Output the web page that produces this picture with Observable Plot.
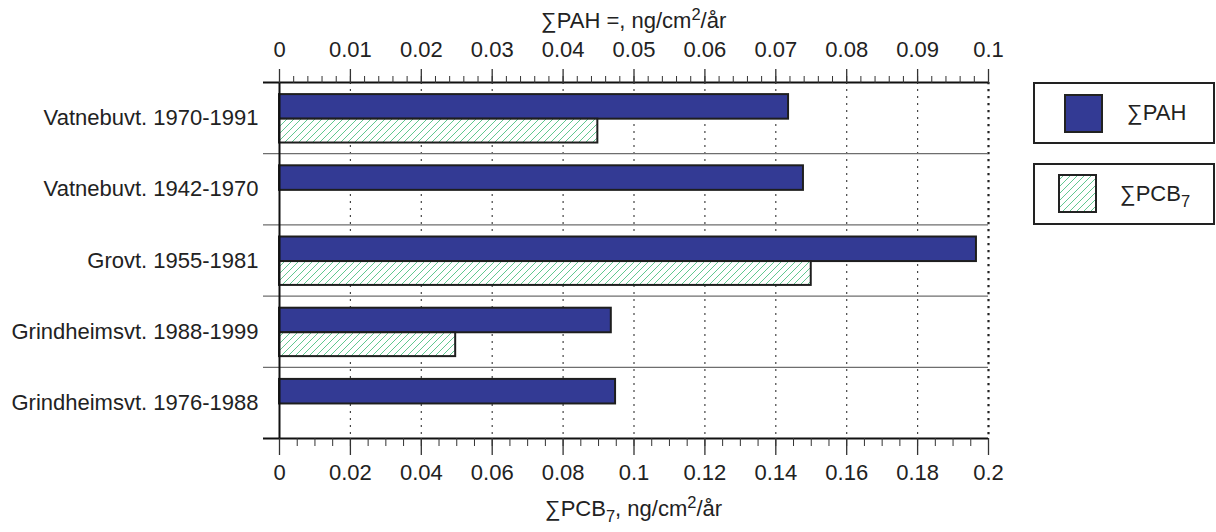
<!DOCTYPE html>
<html><head><meta charset="utf-8">
<script src="https://cdn.jsdelivr.net/npm/d3@7"></script>
<script src="https://cdn.jsdelivr.net/npm/@observablehq/plot@0.6"></script>
<style>
body{margin:0;background:#fff;font-family:"Liberation Sans",Arial,sans-serif;color:#222}
#wrap{position:relative;width:1216px;height:532px;overflow:hidden}
.t{position:absolute;font-size:22px;line-height:22px;white-space:nowrap;color:#222}
.sup{position:relative;top:-0.5em;font-size:0.75em}
.sub{position:relative;top:0.38em;font-size:0.75em}
.box{position:absolute;border:2px solid #222;box-sizing:border-box;background:#fff}
</style></head><body>
<svg width="0" height="0" style="position:absolute">
  <defs>
    <pattern id="hatch" patternUnits="userSpaceOnUse" width="7" height="7">
      <rect width="7" height="7" fill="#fff"/>
      <path d="M-1,1 l2,-2 M0,7 l7,-7 M6,8 l2,-2" stroke="#45bd7c" stroke-width="0.85"/>
    </pattern>
  </defs>
</svg>
<div id="wrap"></div>
<script>
// ---- data ----
const categories = [
  "Vatnebuvt. 1970-1991",
  "Vatnebuvt. 1942-1970",
  "Grovt. 1955-1981",
  "Grindheimsvt. 1988-1999",
  "Grindheimsvt. 1976-1988"
];
const pahValues = [0.0718, 0.0739, 0.0983, 0.0468, 0.0474];   // top axis, ng/cm2/år
const pcbValues = [0.0898, null, 0.15, 0.0497, null];          // bottom axis, ng/cm2/år
const pahTicks = [0, 0.01, 0.02, 0.03, 0.04, 0.05, 0.06, 0.07, 0.08, 0.09, 0.1];
const pcbTicks = [0, 0.02, 0.04, 0.06, 0.08, 0.1, 0.12, 0.14, 0.16, 0.18, 0.2];
const seriesNames = ["∑PAH", "∑PCB7"];

// ---- layout ----
const W = 1216, H = 532;
const mL = 279, mR = 228, mT = 82, mB = 94;
const pahMax = 0.1, pcbMax = 0.2, ratio = pcbMax / pahMax;
const plotW = W - mL - mR;
const leftTick = 16 / plotW * pcbMax;

const rows = categories.map((c, i) => ({cat: c, i, pah: pahValues[i], pcb: pcbValues[i]}));
const fmt = d => String(+(+d).toFixed(4));

const pahMinor = d3.range(0, 51).map(k => k * 0.002 * ratio);
const pcbMinor = d3.range(0, 41).map(k => k * 0.005);

const chart = Plot.plot({
  width: W, height: H,
  marginLeft: mL, marginRight: mR, marginTop: mT, marginBottom: mB,
  x: {domain: [0, pcbMax]},
  y: {domain: [0, categories.length], reverse: true},
  style: {fontFamily: "'Liberation Sans', Arial, sans-serif", fontSize: "22px", color: "#222", background: "transparent"},
  marks: [
    // dotted gridlines
    Plot.ruleX(pcbTicks.slice(1, -1), {y1: 0, y2: categories.length, stroke: "#444", strokeWidth: 1.2, strokeDasharray: "2,5"}),
    Plot.ruleX([pcbMax], {y1: 0, y2: categories.length, stroke: "#222", strokeWidth: 2.2, strokeDasharray: "2.2,4.8"}),
    // row separators
    Plot.ruleY(d3.range(1, categories.length), {x1: -leftTick, x2: pcbMax, stroke: "#6e6e6e", strokeWidth: 1.3}),
    // bars
    Plot.rect(rows, {x1: 0, x2: d => d.pah * ratio, y1: d => d.i + 0.17, y2: d => d.i + 0.515,
      fill: "#333a94", stroke: "#1e1e1e", strokeWidth: 2}),
    Plot.rect(rows.filter(d => d.pcb != null), {x1: 0, x2: d => d.pcb, y1: d => d.i + 0.515, y2: d => d.i + 0.85,
      fill: "url(#hatch)", stroke: "#1e1e1e", strokeWidth: 2}),
    // frame lines
    Plot.ruleX([0], {y1: 0, y2: categories.length, stroke: "#111", strokeWidth: 2}),
    Plot.ruleY([0, categories.length], {x1: -leftTick, x2: pcbMax, stroke: "#111", strokeWidth: 2}),
    // top axis (∑PAH)
    Plot.axisX(pahMinor, {anchor: "top", tickSize: 7, tickFormat: () => "", label: null, stroke: "#333"}),
    Plot.axisX(pahTicks.map(v => v * ratio), {anchor: "top", tickSize: 14, tickPadding: 12,
      tickFormat: d => fmt(d / ratio), label: null, stroke: "#333", strokeWidth: 1.3}),
    // bottom axis (∑PCB7)
    Plot.axisX(pcbMinor, {anchor: "bottom", tickSize: 8, tickFormat: () => "", label: null, stroke: "#333"}),
    Plot.axisX(pcbTicks, {anchor: "bottom", tickSize: 17, tickPadding: 9,
      tickFormat: fmt, label: null, stroke: "#333", strokeWidth: 1.3}),
    // category labels
    Plot.axisY(categories.map((c, i) => i + 0.5), {anchor: "left", tickSize: 0, tickPadding: 21,
      tickFormat: d => categories[Math.floor(d)], label: null})
  ]
});

const wrap = document.getElementById("wrap");
chart.style.position = "absolute";
chart.style.left = "0px";
chart.style.top = "0px";
wrap.appendChild(chart);

// axis titles
const cx = mL + plotW / 2;
const topTitle = document.createElement("div");
topTitle.className = "t";
topTitle.innerHTML = '∑PAH =, ng/cm<span class="sup">2</span>/år';
wrap.appendChild(topTitle);
const botTitle = document.createElement("div");
botTitle.className = "t";
botTitle.innerHTML = '∑PCB<span class="sub">7</span>, ng/cm<span class="sup">2</span>/år';
wrap.appendChild(botTitle);
topTitle.style.top = "10px";
botTitle.style.top = "498px";
topTitle.style.left = (cx - topTitle.offsetWidth / 2) + "px";
botTitle.style.left = (cx - botTitle.offsetWidth / 2) + "px";

// legend
const legend = [
  {name: seriesNames[0], top: 82, sw: 1064, swTop: 94, tx: 1127, fill: "#333a94"},
  {name: seriesNames[1], top: 163, sw: 1058, swTop: 174, tx: 1120, fill: "url(#hatch)"}
];
legend.forEach(l => {
  const b = document.createElement("div");
  b.className = "box";
  b.style.left = "1033px"; b.style.top = l.top + "px";
  b.style.width = "182px"; b.style.height = "62px";
  wrap.appendChild(b);
  const s = document.createElementNS("http://www.w3.org/2000/svg", "svg");
  s.setAttribute("width", 40); s.setAttribute("height", 40);
  s.style.position = "absolute"; s.style.left = l.sw + "px"; s.style.top = l.swTop + "px";
  s.innerHTML = `<rect x="1" y="1" width="37" height="37" fill="${l.fill}" stroke="#222" stroke-width="2"/>`;
  wrap.appendChild(s);
  const t = document.createElement("div");
  t.className = "t";
  t.style.left = l.tx + "px";
  t.style.top = (l.top + 20) + "px";
  t.innerHTML = l.name === "∑PCB7" ? '∑PCB<span class="sub">7</span>' : l.name;
  wrap.appendChild(t);
});
</script>
</body></html>
